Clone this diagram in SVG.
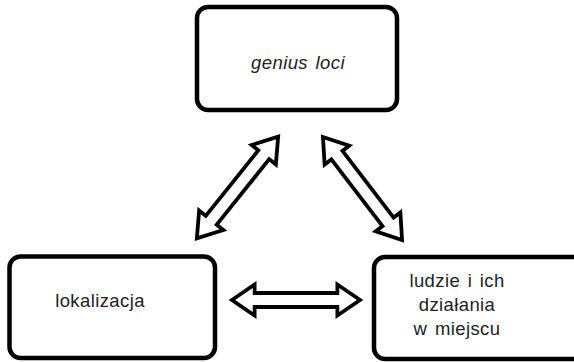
<svg xmlns="http://www.w3.org/2000/svg" width="574" height="362" viewBox="0 0 574 362">
  <defs>
    <style>
      .box { fill: #ffffff; stroke: #000000; stroke-width: 4.5; }
      .arrow { fill: #ffffff; stroke: #000000; stroke-width: 3.8; stroke-linejoin: miter; }
      .label { font-family: "Liberation Sans", Arial, sans-serif; font-size: 18.5px; letter-spacing: 0.4px; word-spacing: 2px; fill: #222222; text-anchor: middle; }
      .italic { font-style: italic; }
    </style>
    <path id="dblarrow" d="M -65 0 L -42 -15.5 L -42 -7 L 42 -7 L 42 -15.5 L 65 0 L 42 15.5 L 42 7 L -42 7 L -42 15.5 Z"/>
  </defs>
  <rect width="574" height="362" fill="#ffffff"/>
  <g id="node-genius-loci">
    <rect class="box" x="197" y="7" width="200" height="103" rx="11" ry="11"/>
    <text class="label italic" x="298" y="68.5">genius loci</text>
  </g>
  <g id="node-lokalizacja">
    <rect class="box" x="9.5" y="256.5" width="205.5" height="101.5" rx="11" ry="11"/>
    <text class="label" x="100" y="306.5">lokalizacja</text>
  </g>
  <g id="node-ludzie">
    <rect class="box" x="374" y="257" width="210" height="102" rx="11" ry="11"/>
    <text class="label" x="457" y="287">ludzie i ich</text>
    <text class="label" x="457" y="311">działania</text>
    <text class="label" x="457" y="335">w miejscu</text>
  </g>
  <g id="connectors">
    <use href="#dblarrow" class="arrow" transform="translate(237.5,187.5) rotate(128.7)"/>
    <use href="#dblarrow" class="arrow" transform="translate(362.5,188.5) rotate(52.5)"/>
    <use href="#dblarrow" class="arrow" transform="translate(296,300) scale(0.985,1)"/>
  </g>
</svg>
